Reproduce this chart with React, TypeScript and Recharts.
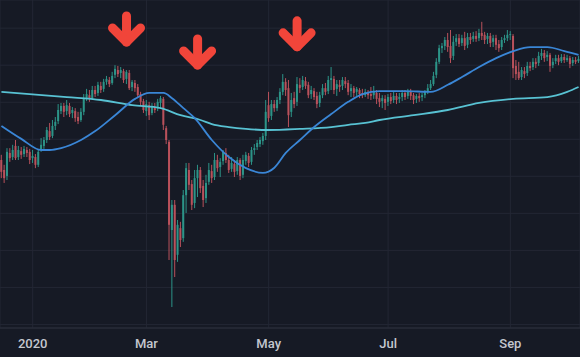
import React from 'react';
import { ComposedChart, Bar, Line, XAxis, YAxis, CartesianGrid, ReferenceDot } from 'recharts';

// trading sessions shown on the chart (day of month)
const dec2019 = [16, 17, 18, 19, 20, 23, 24, 26, 27, 30, 31];
const jan2020 = [2, 3, 6, 7, 8, 9, 10, 13, 14, 15, 16, 17, 21, 22, 23, 24, 27, 28, 29, 30, 31];
const feb2020 = [3, 4, 5, 6, 7, 10, 11, 12, 13, 14, 18, 19, 20, 21, 24, 25, 26, 27, 28];
const mar2020 = [2, 3, 4, 5, 6, 9, 10, 11, 12, 13, 16, 17, 18, 19, 20, 23, 24, 25, 26, 27, 30, 31];
const apr2020 = [1, 2, 3, 6, 7, 8, 9, 13, 14, 15, 16, 17, 20, 21, 22, 23, 24, 27, 28, 29, 30];
const may2020 = [1, 4, 5, 6, 7, 8, 11, 12, 13, 14, 15, 18, 19, 20, 21, 22, 26, 27, 28, 29];
const jun2020 = [1, 2, 3, 4, 5, 8, 9, 10, 11, 12, 15, 16, 17, 18, 19, 22, 23, 24, 25, 26, 29, 30];
const jul2020 = [1, 2, 6, 7, 8, 9, 10, 13, 14, 15, 16, 17, 20, 21, 22, 23, 24, 27, 28, 29, 30, 31];
const aug2020 = [3, 4, 5, 6, 7, 10, 11, 12, 13, 14, 17, 18, 19, 20, 21, 24, 25, 26, 27, 28, 31];
const sep2020 = [1, 2, 3, 4, 8, 9, 10, 11, 14, 15, 16, 17, 18, 21, 22, 23, 24, 25, 28, 29, 30];
const oct2020 = [1, 2, 5, 6];

const tickDates = ['2020-01-02', '2020-03-02', '2020-05-01', '2020-07-01', '2020-09-01'];
const tickLabels = ['2020', 'Mar', 'May', 'Jul', 'Sep'];
const priceTicks = [100, 110, 120, 130, 140, 150, 160, 170, 180];

const open = [
  144.4, 141.7, 140.1, 146.3, 145.2, 148.2, 145.2, 146.8, 146.0, 147.1, 146.6,
  144.9, 145.2, 143.1, 147.1, 148.2, 149.8, 152.2, 150.9, 153.6, 154.9, 157.6, 159.0, 157.6, 159.0, 157.1, 157.6, 156.0, 155.2, 157.4, 160.9, 161.9,
  161.1, 163.3, 162.5, 164.4, 163.6, 165.5, 166.0, 165.2, 167.4, 168.7, 167.9, 168.4, 166.3, 167.9, 164.1, 165.2, 164.1, 162.2, 160.3,
  157.6, 159.2, 157.1, 158.7, 158.2, 159.8, 160.9, 153.0, 149.3, 125.5, 132.3, 118.8, 126.0, 123.3, 134.9, 141.7, 137.9, 132.8, 139.5, 141.7, 137.4, 134.1,
  138.5, 141.4, 139.8, 144.4, 142.5, 144.1, 146.3, 144.4, 142.0, 143.3, 141.4, 144.4, 140.4, 144.1, 145.5, 143.9, 147.1, 147.9, 148.7, 149.5, 150.9,
  159.2, 156.3, 159.5, 158.4, 160.6, 162.8, 165.5, 163.8, 157.4, 161.1, 160.1, 164.7, 164.1, 165.7, 164.7, 162.2, 163.0, 161.7, 159.8, 161.9,
  163.8, 163.0, 166.0, 166.3, 163.6, 164.7, 164.4, 165.7, 165.2, 163.0, 163.8, 162.8, 163.3, 162.5, 161.9, 162.8, 162.2, 161.9, 162.5, 161.1, 160.3, 160.9,
  160.1, 161.4, 160.6, 161.7, 160.9, 161.4, 162.5, 161.7, 162.8, 161.9, 160.9, 161.7, 161.4, 161.9, 162.8, 163.8, 164.9, 167.4, 170.9, 174.6, 175.2, 176.8,
  175.2, 172.5, 176.3, 177.3, 176.0, 177.3, 175.5, 177.6, 177.1, 177.9, 177.3, 178.7, 178.2, 177.1, 177.9, 176.3, 177.3, 175.7, 174.9, 176.8, 177.3,
  178.2, 177.9, 169.8, 168.2, 166.8, 168.4, 167.9, 169.8, 169.5, 170.9, 170.6, 172.5, 173.3, 172.2, 172.8, 170.0, 171.1, 171.9, 171.1, 172.2, 171.4,
  171.9, 170.6, 171.4, 171.1,
];

const high = [
  145.8, 143.1, 147.6, 147.6, 148.5, 149.8, 148.2, 147.9, 148.2, 147.9, 147.4,
  147.1, 146.0, 147.1, 150.3, 150.6, 153.3, 154.4, 155.2, 156.0, 159.5, 159.8, 159.8, 160.6, 159.8, 158.7, 158.4, 157.4, 158.4, 162.2, 163.6, 163.3,
  164.4, 164.4, 165.5, 165.5, 166.3, 167.1, 166.8, 168.2, 170.0, 169.8, 169.5, 169.0, 168.7, 168.7, 166.0, 166.0, 164.9, 162.8, 160.9,
  160.6, 160.1, 159.8, 159.8, 160.9, 161.7, 161.4, 153.6, 149.8, 133.6, 133.6, 128.2, 127.7, 136.3, 143.6, 143.6, 139.0, 141.7, 143.1, 142.5, 139.0, 140.4,
  143.6, 143.1, 146.3, 145.8, 144.9, 147.1, 147.6, 145.8, 145.2, 144.4, 145.2, 144.9, 145.8, 146.6, 146.3, 147.9, 148.7, 149.8, 150.6, 151.7, 160.6,
  162.8, 160.6, 160.6, 161.4, 163.8, 167.6, 166.5, 166.0, 162.5, 162.8, 166.8, 166.5, 167.1, 166.8, 165.5, 164.4, 163.8, 162.8, 162.8, 164.9,
  165.2, 167.1, 169.5, 167.1, 166.0, 166.0, 166.8, 166.8, 166.0, 164.9, 164.4, 164.1, 163.8, 163.6, 163.6, 163.3, 164.1, 164.4, 163.3, 162.5, 161.9, 161.9,
  162.2, 162.5, 162.8, 162.5, 162.5, 163.3, 163.3, 163.6, 163.6, 162.5, 162.2, 162.5, 162.5, 163.3, 164.9, 166.0, 168.2, 171.9, 175.5, 176.0, 177.6, 178.7,
  179.5, 177.9, 178.4, 178.4, 178.2, 179.0, 178.7, 178.7, 179.0, 179.2, 179.8, 181.7, 179.0, 178.7, 178.7, 178.2, 178.2, 176.8, 177.6, 178.2, 179.5,
  179.2, 178.4, 171.4, 170.9, 169.5, 169.5, 170.9, 170.9, 171.9, 171.9, 173.6, 174.4, 174.1, 173.8, 173.3, 171.9, 172.8, 172.8, 173.0, 173.0, 172.8,
  172.5, 172.2, 172.2, 172.5,
];

const low = [
  139.5, 138.2, 139.0, 143.9, 144.4, 144.4, 144.4, 144.7, 145.2, 145.2, 143.3,
  143.6, 142.2, 142.5, 146.6, 147.4, 149.0, 149.8, 150.3, 152.5, 154.1, 156.8, 156.0, 156.5, 156.0, 155.7, 154.7, 154.1, 154.7, 156.5, 160.3, 160.1,
  160.6, 161.4, 161.7, 162.5, 162.8, 164.7, 164.1, 164.7, 166.5, 166.8, 166.5, 165.2, 164.9, 163.3, 163.0, 162.8, 161.1, 159.2, 157.1,
  156.3, 155.2, 156.5, 157.1, 157.6, 158.4, 152.5, 148.7, 117.4, 104.7, 112.8, 116.9, 120.9, 122.3, 130.1, 136.3, 130.9, 131.4, 134.4, 135.5, 131.7, 132.8,
  137.7, 138.2, 139.0, 141.2, 139.8, 143.1, 143.6, 140.9, 141.2, 139.8, 140.4, 139.0, 139.5, 143.1, 142.5, 143.1, 145.8, 147.1, 147.9, 148.5, 149.8,
  154.7, 155.2, 157.4, 157.6, 159.5, 161.9, 161.7, 153.3, 156.0, 158.4, 159.0, 162.5, 163.3, 163.6, 161.1, 160.9, 160.6, 158.4, 158.7, 161.1,
  161.9, 162.2, 163.3, 162.2, 161.7, 162.8, 163.3, 163.8, 161.9, 161.4, 161.4, 161.7, 161.1, 161.1, 161.4, 160.9, 160.6, 160.9, 159.5, 158.7, 158.4, 157.9,
  159.0, 159.5, 159.8, 159.5, 159.8, 160.3, 160.6, 160.9, 160.6, 159.5, 159.8, 160.1, 160.3, 161.1, 162.2, 163.3, 164.4, 166.5, 170.3, 173.3, 174.1, 173.6,
  170.6, 171.4, 175.2, 174.9, 175.2, 174.1, 174.6, 175.7, 176.3, 176.3, 176.5, 176.8, 175.7, 175.7, 174.9, 174.9, 174.1, 173.6, 174.1, 176.0, 176.5,
  176.8, 166.5, 166.0, 166.0, 166.0, 166.5, 167.1, 168.4, 168.7, 169.2, 169.8, 171.4, 170.9, 171.1, 168.2, 169.2, 170.3, 170.0, 170.6, 170.6, 170.9,
  169.2, 169.8, 170.3, 170.6,
];

const close = [
  141.2, 139.5, 146.6, 144.9, 147.1, 144.9, 147.1, 145.8, 147.4, 146.3, 144.4,
  145.5, 143.1, 146.6, 148.5, 149.8, 152.5, 150.6, 153.6, 154.7, 157.9, 159.0, 157.4, 159.2, 156.8, 157.9, 155.7, 154.9, 157.4, 161.1, 162.2, 160.9,
  163.3, 162.2, 164.7, 163.3, 165.5, 166.3, 164.9, 167.1, 169.0, 167.6, 168.7, 166.0, 168.2, 163.8, 165.5, 163.8, 161.9, 160.1, 157.9,
  159.5, 156.5, 159.0, 157.9, 160.1, 161.1, 153.9, 149.8, 126.9, 132.3, 117.4, 126.9, 122.8, 134.9, 142.2, 137.7, 132.3, 139.5, 141.7, 136.8, 133.6, 138.2,
  141.7, 139.5, 144.4, 142.2, 143.9, 146.6, 144.4, 141.7, 143.6, 141.2, 144.4, 140.1, 144.4, 145.8, 143.6, 147.1, 147.6, 149.0, 149.8, 150.9, 157.4,
  155.7, 159.5, 158.4, 160.6, 162.8, 165.5, 163.3, 156.5, 160.6, 159.5, 164.9, 163.8, 166.0, 164.4, 161.9, 163.3, 161.4, 159.5, 161.9, 163.8,
  162.8, 166.0, 166.5, 163.3, 164.9, 164.1, 166.0, 164.9, 162.8, 163.8, 162.5, 163.6, 162.2, 161.9, 162.8, 161.9, 161.7, 162.8, 160.9, 160.1, 161.1, 159.8,
  161.4, 160.3, 161.7, 160.6, 161.4, 162.5, 161.4, 162.8, 161.7, 160.6, 161.7, 161.1, 161.9, 162.8, 163.8, 164.9, 167.1, 170.9, 174.6, 175.2, 176.8, 174.9,
  171.9, 176.3, 177.3, 175.7, 177.3, 175.2, 177.6, 176.8, 177.9, 177.1, 178.7, 177.9, 176.8, 177.9, 176.0, 177.3, 175.5, 174.6, 176.8, 177.3, 178.2,
  178.4, 169.2, 167.6, 166.5, 168.7, 167.6, 169.8, 169.2, 170.9, 170.3, 172.5, 173.3, 171.9, 172.8, 169.8, 170.9, 171.9, 170.9, 172.2, 171.4, 171.9,
  170.3, 171.4, 170.9, 171.7,
];

// moving averages: [session number, value]
const ma50 = [
  [0, 153.6], [7, 150.1], [14, 147.1], [17, 147.1], [21, 147.6], [28, 149.8], [33, 152.2], [40, 156.5],
  [47, 160.9], [52, 162.5], [57, 162.5], [60, 161.1], [64, 158.4], [68, 155.7], [74, 149.8], [80, 145.2],
  [86, 142.2], [92, 140.9], [96, 142.3], [100, 146.3], [105, 149.8], [110, 153.3], [116, 156.8], [122, 160.1],
  [127, 162.2], [133, 163.0], [142, 163.0], [151, 162.8], [157, 164.7], [162, 166.8], [168, 169.5], [174, 171.9],
  [180, 173.8], [186, 174.9], [192, 174.9], [198, 173.8], [203, 172.8],
];
const ma200 = [
  [0, 162.8], [23, 161.4], [35, 160.6], [46, 159.2], [56, 158.4], [63, 156.5], [70, 155.2], [74, 154.1],
  [80, 153.3], [86, 152.8], [94, 152.5], [105, 152.8], [116, 153.3], [122, 153.9], [128, 154.4], [133, 155.2],
  [145, 156.5], [157, 157.9], [168, 159.8], [180, 160.9], [192, 161.4], [199, 162.8], [203, 164.1],
];

// arrows marking the tops
const markers = [
  { date: '2020-02-20', price: 174.9 },
  { date: '2020-03-26', price: 168.7 },
  { date: '2020-05-15', price: 173.6 },
];

const UP = '#2c9488';
const DOWN = '#b9515b';

const months: [string, number[]][] = [
  ['2019-12', dec2019], ['2020-01', jan2020], ['2020-02', feb2020], ['2020-03', mar2020],
  ['2020-04', apr2020], ['2020-05', may2020], ['2020-06', jun2020], ['2020-07', jul2020],
  ['2020-08', aug2020], ['2020-09', sep2020], ['2020-10', oct2020],
];
const dates = months.flatMap(([ym, days]) => days.map((d) => `${ym}-${String(d).padStart(2, '0')}`));

const ma50Map = new Map(ma50.map(([i, v]) => [i, v]));
const ma200Map = new Map(ma200.map(([i, v]) => [i, v]));

const data = dates.map((date, i) => ({
  date,
  open: open[i],
  high: high[i],
  low: low[i],
  close: close[i],
  range: [low[i], high[i]],
  ma50: ma50Map.has(i) ? ma50Map.get(i) : null,
  ma200: ma200Map.has(i) ? ma200Map.get(i) : null,
}));

const Candle = (props: any) => {
  const { x, y, width, height, payload } = props;
  if (!payload) return null;
  const { open: o, close: c, high: h, low: l } = payload;
  const top = Math.min(y, y + height);
  const span = Math.abs(height);
  const toY = (v: number) => (h === l ? top : top + ((h - v) / (h - l)) * span);
  const color = c >= o ? UP : DOWN;
  const cx = x + width / 2;
  const bodyTop = toY(Math.max(o, c));
  const bodyBottom = toY(Math.min(o, c));
  return (
    <g>
      <line x1={cx} x2={cx} y1={top} y2={top + span} stroke={color} strokeWidth={1} />
      <rect x={cx - 1} y={bodyTop} width={2} height={Math.max(1, bodyBottom - bodyTop)} fill={color} />
    </g>
  );
};

const Arrow = (props: any) => {
  const { cx, cy } = props;
  return (
    <g stroke="#f1453a" strokeWidth={9} strokeLinecap="round" strokeLinejoin="round" fill="none">
      <path d={`M${cx},${cy - 31} L${cx},${cy - 5}`} />
      <path d={`M${cx - 14},${cy - 19} L${cx},${cy - 5} L${cx + 14},${cy - 19}`} />
    </g>
  );
};

const App = () => {
  return (
    <div style={{ position: 'absolute', left: 0, top: 0, width: 580, height: 357, background: '#161a25' }}>
      <ComposedChart width={580} height={357} data={data} margin={{ top: 0, right: 0, left: 0, bottom: 0 }}>
        <CartesianGrid stroke="#232734" strokeWidth={1} />
        <XAxis
          dataKey="date"
          ticks={tickDates}
          interval={0}
          tickFormatter={(v) => tickLabels[tickDates.indexOf(v)]}
          tickLine={false}
          tickSize={0}
          tickMargin={11}
          height={29}
          axisLine={{ stroke: '#2a2e3a' }}
          tick={{ fill: '#c4c7cf', fontSize: 13, fontFamily: 'Roboto', fontWeight: 500 }}
        />
        <YAxis hide type="number" domain={[99.04, 187.6]} ticks={priceTicks} allowDataOverflow />
        <Bar dataKey="range" shape={(p: any) => <Candle {...p} />} isAnimationActive={false} />
        <Line type="monotone" dataKey="ma200" stroke="#58c2d3" strokeWidth={1.8} dot={false} activeDot={false} connectNulls isAnimationActive={false} />
        <Line type="monotone" dataKey="ma50" stroke="#3a86d6" strokeWidth={1.8} dot={false} activeDot={false} connectNulls isAnimationActive={false} />
        {markers.map((m) => (
          <ReferenceDot key={m.date} x={m.date} y={m.price} shape={(p: any) => <Arrow {...p} />} />
        ))}
      </ComposedChart>
    </div>
  );
};

export default App;
